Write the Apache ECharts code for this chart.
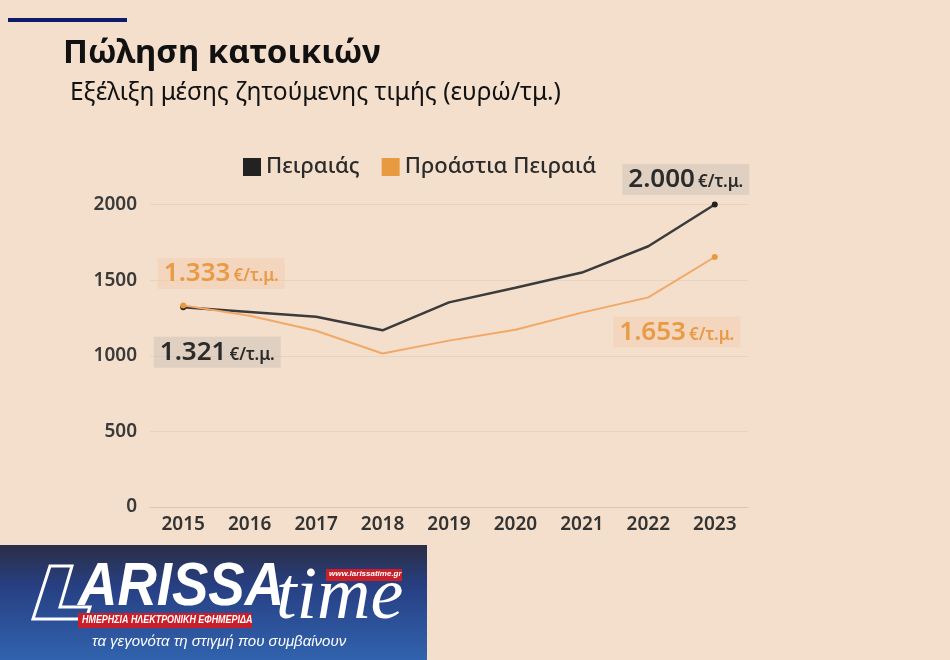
<!DOCTYPE html>
<html>
<head>
<meta charset="utf-8">
<script src="https://cdn.jsdelivr.net/npm/echarts@6/dist/echarts.min.js"></script>
<style>
  html, body { margin: 0; padding: 0; background: #f3dfcc; }
  #chart { width: 950px; height: 660px; }
</style>
</head>
<body>
<div id="chart"></div>
<script>
const years = ['2015', '2016', '2017', '2018', '2019', '2020', '2021', '2022', '2023'];
const piraeus = [1321, 1290, 1258, 1168, 1353, 1450, 1550, 1724, 2000];
const suburbs = [1333, 1265, 1165, 1015, 1100, 1172, 1285, 1386, 1653];
const yTicks = { min: 0, max: 2000, interval: 500 };
const seriesNames = ['Πειραιάς', 'Προάστια Πειραιά'];
const titleText = 'Πώληση κατοικιών';
const subtitleText = 'Εξέλιξη μέσης ζητούμενης τιμής (ευρώ/τμ.)';
const unitText = '€/τ.μ.';

function fmt(v) {
  const s = String(v);
  return s.length > 3 ? s.slice(0, s.length - 3) + '.' + s.slice(-3) : s;
}

const FONT = '"Noto Sans", "DejaVu Sans", sans-serif';
const BLACK = '#3b3b3b';
const ORANGE = '#f2a866';
const ORANGE_TXT = '#e89a45';

function endLabel(v, color, bg, offset) {
  return {
    show: true,
    position: 'inside',
    offset: offset,
    formatter: '{a|' + fmt(v) + '}{b|' + unitText + '}',
    backgroundColor: bg,
    padding: [3, 6, 2, 6],
    rich: {
      a: { fontFamily: FONT, fontSize: 26, fontWeight: 600, color: color },
      b: { fontFamily: FONT, fontSize: 17, fontWeight: 600, color: color, padding: [5, 0, 0, 3] }
    }
  };
}

const last = years.length - 1;
const piraeusData = piraeus.map((v, i) => {
  if (i === 0) return { value: v, label: endLabel(v, '#2b2b2b', 'rgba(200,190,180,0.45)', [34, 45]) };
  if (i === last) return { value: v, label: endLabel(v, '#2b2b2b', 'rgba(200,190,180,0.45)', [-29, -25]) };
  return v;
});
const suburbsData = suburbs.map((v, i) => {
  if (i === 0) return { value: v, label: endLabel(v, ORANGE_TXT, 'rgba(245,205,170,0.45)', [38, -32]) };
  if (i === last) return { value: v, label: endLabel(v, ORANGE_TXT, 'rgba(245,205,170,0.45)', [-38, 75]) };
  return v;
});

const symSize = (val, p) => (p.dataIndex === 0 || p.dataIndex === last) ? 6 : 0;

const chart = echarts.init(document.getElementById('chart'), null, { renderer: 'canvas' });
chart.setOption({
  backgroundColor: '#f3dfcc',
  animation: false,
  textStyle: { fontFamily: FONT },
  title: [
    { text: titleText, left: 58, top: 32, textStyle: { fontFamily: FONT, fontSize: 33, fontWeight: 'bold', color: '#111' } },
    { text: subtitleText, left: 65, top: 76, textStyle: { fontFamily: FONT, fontSize: 24.5, fontWeight: 'normal', color: '#111' } }
  ],
  legend: {
    left: 238, top: 151,
    itemWidth: 18, itemHeight: 18, itemGap: 22,
    icon: 'rect',
    textStyle: { fontFamily: FONT, fontSize: 22, color: '#2b2b2b', fontWeight: 500 },
    data: seriesNames
  },
  grid: { left: 150, right: 202, top: 204.5, bottom: 153 },
  xAxis: {
    type: 'category',
    data: years,
    boundaryGap: true,
    axisLine: { show: true, lineStyle: { color: '#d6c6b6', width: 1 } },
    axisTick: { show: false },
    axisLabel: { margin: 8, fontFamily: FONT, fontSize: 19, fontWeight: 600, color: '#333' }
  },
  yAxis: {
    type: 'value',
    min: yTicks.min, max: yTicks.max, interval: yTicks.interval,
    axisLine: { show: false },
    axisTick: { show: false },
    splitLine: { lineStyle: { color: 'rgba(210,190,170,0.35)', width: 1 } },
    axisLabel: { margin: 13, fontFamily: FONT, fontSize: 19, fontWeight: 600, color: '#3a3a3a', formatter: v => String(v) }
  },
  series: [
    {
      name: seriesNames[0], type: 'line', data: piraeusData,
      color: '#2e2e2e',
      symbol: 'circle', symbolSize: symSize, showAllSymbol: true,
      lineStyle: { color: BLACK, width: 2.5 },
      itemStyle: { color: '#222' },
      z: 3
    },
    {
      name: seriesNames[1], type: 'line', data: suburbsData,
      color: ORANGE,
      symbol: 'circle', symbolSize: symSize, showAllSymbol: true,
      lineStyle: { color: ORANGE, width: 2 },
      itemStyle: { color: '#e89a40' },
      z: 4
    }
  ],
  graphic: [
    { type: 'rect', shape: { x: 8, y: 18, width: 119, height: 4 }, style: { fill: '#0f1a6b' } },
    {
      type: 'group', left: 0, top: 545,
      children: [
        { type: 'rect', shape: { x: 0, y: 0, width: 427, height: 115 },
          style: { fill: new echarts.graphic.LinearGradient(0, 0, 0, 1, [
            { offset: 0, color: '#2b2e44' }, { offset: 0.35, color: '#273f82' }, { offset: 1, color: '#3163ae' }]) } },
        { type: 'polygon', shape: { points: [[50, 21], [72, 21], [60, 62], [90, 62], [86, 74], [33, 74]] },
          style: { fill: 'none', stroke: '#fff', lineWidth: 3 } },
        { type: 'text', x: 78, y: 12, scaleX: 0.88, style: { x: 0, y: 0, text: 'ARISSA', fill: '#fff', font: 'italic bold 62px "Liberation Sans", Arial, sans-serif' } },
        { type: 'text', x: 276, y: 17, style: { x: 0, y: 0, text: 'time', fill: '#fff', font: 'italic 74px "Liberation Serif", serif' } },
        { type: 'rect', shape: { x: 326, y: 24, width: 76, height: 12 }, style: { fill: '#c8202a' } },
        { type: 'text', style: { x: 329, y: 25, text: 'www.larissatime.gr', fill: '#fff', font: 'italic bold 8px "Liberation Sans", sans-serif' } },
        { type: 'rect', shape: { x: 78, y: 68, width: 174, height: 15 }, style: { fill: '#c8202a' } },
        { type: 'text', x: 82, y: 70, scaleX: 0.85, style: { x: 0, y: 0, text: 'ΗΜΕΡΗΣΙΑ ΗΛΕΚΤΡΟΝΙΚΗ ΕΦΗΜΕΡΙΔΑ', fill: '#fff', font: 'italic bold 10.5px "Liberation Sans", sans-serif' } },
        { type: 'text', style: { x: 92, y: 89, text: 'τα γεγονότα τη στιγμή που συμβαίνουν', fill: '#fff', font: 'italic 15px "Liberation Sans", sans-serif' } }
      ]
    }
  ]
});
</script>
</body>
</html>
